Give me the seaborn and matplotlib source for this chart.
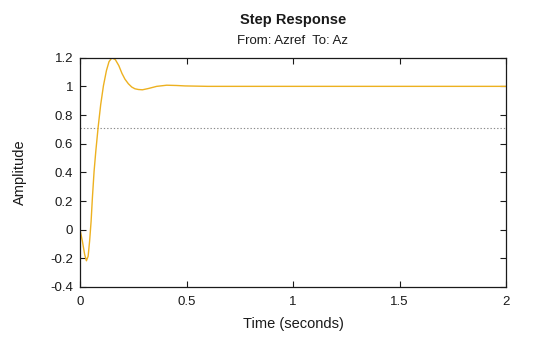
import matplotlib
matplotlib.use("Agg")
import matplotlib.pyplot as plt
import seaborn as sns
import pandas as pd

# Step response samples: time (s) and amplitude
time_s = [0.000, 0.011, 0.022, 0.030, 0.038, 0.045, 0.052, 0.058, 0.066,
          0.074, 0.085, 0.097, 0.110, 0.124, 0.136, 0.150, 0.166, 0.182,
          0.197, 0.211, 0.227, 0.243, 0.258, 0.274, 0.293, 0.321, 0.360,
          0.407, 0.454, 0.493, 0.600, 2.000]
amplitude = [0.000, -0.080, -0.175, -0.217, -0.186, -0.080, 0.058, 0.220, 0.407,
             0.546, 0.714, 0.872, 1.005, 1.110, 1.172, 1.200, 1.186, 1.145,
             1.090, 1.050, 1.018, 0.995, 0.983, 0.978, 0.976, 0.985, 1.000,
             1.008, 1.006, 1.003, 1.000, 1.000]

# Reference level drawn as a dotted line
ref_level = 0.707

xticks = [0, 0.5, 1, 1.5, 2]
xtick_labels = ["0", "0.5", "1", "1.5", "2"]
yticks = [-0.4, -0.2, 0, 0.2, 0.4, 0.6, 0.8, 1, 1.2]
ytick_labels = ["-0.4", "-0.2", "0", "0.2", "0.4", "0.6", "0.8", "1", "1.2"]

title = "Step Response"
subtitle = "From: Azref  To: Az"
xlabel = "Time (seconds)"
ylabel = "Amplitude"

sns.set_theme(style="ticks")
plt.rcParams["font.family"] = ["Liberation Sans", "DejaVu Sans"]

df = pd.DataFrame({"t": time_s, "y": amplitude})

fig = plt.figure(figsize=(5.6, 3.37), dpi=100)
ax = fig.add_axes([0.1429, 0.1484, 0.7607, 0.6804])

ax.axhline(ref_level, color="#8a8a8a", lw=0.8, ls=(0, (1.2, 1.8)), zorder=1)
sns.lineplot(data=df, x="t", y="y", ax=ax, color="#EDB120", lw=1.0,
             sort=False, estimator=None, zorder=2)

ax.set_xlim(0, 2)
ax.set_ylim(-0.4, 1.2)
ax.set_xticks(xticks)
ax.set_xticklabels(xtick_labels)
ax.set_yticks(yticks)
ax.set_yticklabels(ytick_labels)

ax.tick_params(direction="in", length=4, width=0.8, colors="#1a1a1a",
               labelsize=9.5, top=True, right=True)
ax.tick_params(axis="x", pad=6.5)
ax.tick_params(axis="y", pad=5)
for s in ax.spines.values():
    s.set_visible(True)
    s.set_linewidth(0.9)
    s.set_color("#1a1a1a")

ax.set_xlabel(xlabel, fontsize=10.5, color="#1a1a1a", labelpad=6.5)
ax.set_ylabel(ylabel, fontsize=10.5, color="#1a1a1a", labelpad=17)

fig.text(0.523, 0.940, title, ha="center", va="center", fontsize=10.5,
         fontweight="bold", color="#1a1a1a")
fig.text(0.523, 0.877, subtitle, ha="center", va="center", fontsize=9.5,
         color="#1a1a1a")

fig.savefig("out.png", dpi=100, facecolor="white")
